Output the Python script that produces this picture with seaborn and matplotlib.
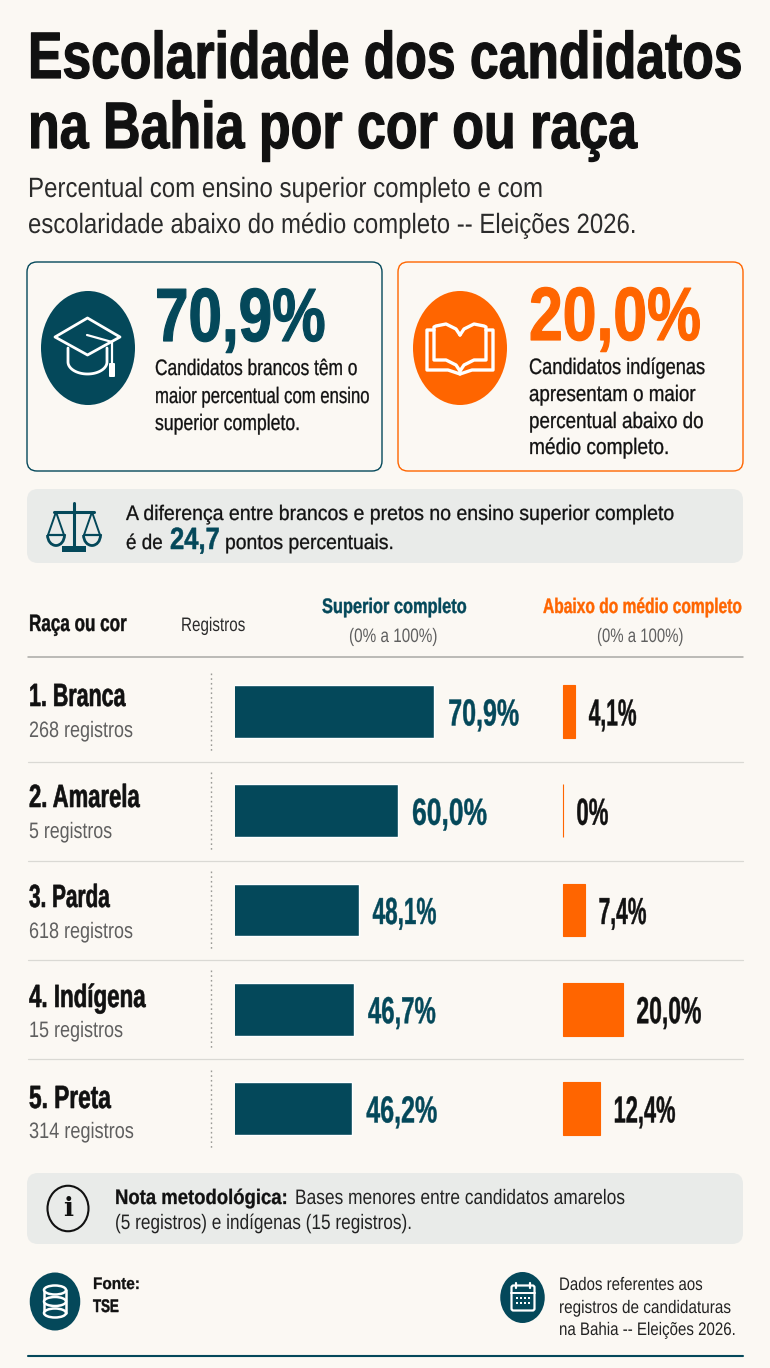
import matplotlib
matplotlib.use("Agg")
import matplotlib.pyplot as plt
from matplotlib.patches import FancyBboxPatch, Ellipse, Rectangle, Polygon, Arc
from matplotlib.patheffects import AbstractPathEffect
from matplotlib.transforms import Affine2D
import numpy as np
import pandas as pd
import seaborn as sns

# Data
racas = ["Branca", "Amarela", "Parda", "Indígena", "Preta"]
registros = [268, 5, 618, 15, 314]
superior = [70.9, 60.0, 48.1, 46.7, 46.2]
abaixo = [4.1, 0, 7.4, 20.0, 12.4]

# Colours
BG = "#FBF8F3"
TEAL = "#04485A"
ORANGE = "#FF6500"
PANEL = "#E9EBE9"
INK = "#111111"
GRAY = "#5F5F5F"

FONT = ["Liberation Sans", "DejaVu Sans"]
CAP = 0.716  # cap height of the font, in em

sns.set_theme(style="white")
plt.rcParams["font.family"] = FONT

W, H = 770, 1368
fig = plt.figure(figsize=(W / 100, H / 100), dpi=100, facecolor=BG)

# Overlay in pixel coordinates for the infographic furniture
bg = fig.add_axes([0, 0, 1, 1])
bg.set_xlim(0, W)
bg.set_ylim(H, 0)
bg.axis("off")
renderer = fig.canvas.get_renderer()


class Tall(AbstractPathEffect):
    # the reference's lettering is tall and narrow, no condensed font is installed
    def __init__(self, sy, heavy=0):
        super().__init__()
        self.sy = sy
        self.heavy = heavy

    def draw_path(self, renderer, gc, tpath, affine, rgbFace=None):
        gc0 = renderer.new_gc()
        gc0.copy_properties(gc)
        if self.heavy:
            gc0.set_linewidth(self.heavy * 0.72)
            gc0.set_foreground(rgbFace)
        renderer.draw_path(gc0, tpath, Affine2D().scale(1, self.sy) + affine, rgbFace)
        gc0.restore()


def shape(t, w, cap, heavy=0):
    # fit text to width w px and cap height cap px
    cur = t.get_window_extent(renderer).width
    t.set_fontsize(t.get_fontsize() * w / cur)
    px = t.get_fontsize() / 0.72
    t.set_path_effects([Tall(cap / (CAP * px), heavy)])
    return t


def txt(x, y, s, w, cap, color=INK, weight="normal", heavy=0):
    # x = left edge, y = baseline
    t = bg.text(x, y, s, fontsize=14, color=color, fontweight=weight,
                ha="left", va="baseline")
    return shape(t, w, cap, heavy)


def card(x0, y0, x1, y1, edge="none", face="none", lw=1.0, r=10):
    bg.add_patch(FancyBboxPatch((x0 + r, y0 + r), x1 - x0 - 2 * r, y1 - y0 - 2 * r,
                                boxstyle=f"round,pad={r},rounding_size={r}",
                                ec=edge, fc=face, lw=lw))


def stroke(xs, ys, color="white", lw=2.0, **kw):
    bg.plot(xs, ys, color=color, lw=lw, solid_capstyle="round",
            solid_joinstyle="round", **kw)


# Title
txt(28, 78, "Escolaridade dos candidatos", 716, 47, weight="bold", heavy=1.2)
txt(28, 148, "na Bahia por cor ou raça", 611, 47, weight="bold", heavy=1.2)
txt(28, 197, "Percentual com ensino superior completo e com", 518, 20, color="#2B2B2B")
txt(28, 233, "escolaridade abaixo do médio completo -- Eleições 2026.", 613, 20, color="#2B2B2B")

# KPI cards
card(27, 262, 382, 471, edge=TEAL)
card(398, 262, 743, 471, edge=ORANGE)
bg.add_patch(Ellipse((88, 348), 94, 114, fc=TEAL, ec="none"))
bg.add_patch(Ellipse((460, 348), 94, 114, fc=ORANGE, ec="none"))

# graduation cap
bg.add_patch(Polygon([(87.5, 318), (120, 337), (87.5, 355), (55, 337)], closed=True,
                     fc="none", ec="white", lw=2.0, joinstyle="round"))
t = np.linspace(0, np.pi, 40)
stroke(np.r_[68, 87.5 - 19.5 * np.cos(t), 107], np.r_[348, 362 + 12 * np.sin(t), 348])
stroke([87, 112, 112], [335, 342, 365], lw=1.6)
bg.add_patch(FancyBboxPatch((110, 364), 4, 12, boxstyle="round,pad=1", fc="white", ec="none"))

# open book
for sgn in (-1, 1):
    xs = 460 + sgn * np.array([0, 4, 14, 24, 26, 26, 14, 4, 0])
    ys = [335, 329, 324, 326, 327, 360, 360, 365, 371]
    stroke(xs, ys, lw=2.4)
    stroke(460 + sgn * np.array([26, 33, 33, 12, 0]), [330, 330, 370, 370, 374], lw=2.4)

txt(155, 341, "70,9%", 171, 54, color=TEAL, weight="bold", heavy=1.2)
txt(529, 340, "20,0%", 172, 54, color=ORANGE, weight="bold", heavy=1.2)
for y, s, w in [(375, "Candidatos brancos têm o", 204),
                (403, "maior percentual com ensino", 216),
                (430, "superior completo.", 146)]:
    txt(155, y, s, w, 16, heavy=0.3)
for y, s, w in [(374, "Candidatos indígenas", 178),
                (401, "apresentam o maior", 168),
                (428, "percentual abaixo do", 176),
                (454, "médio completo.", 141)]:
    txt(529, y, s, w, 16, heavy=0.3)

# Difference panel
card(27, 489, 743, 563, face=PANEL, r=11)
stroke([74, 74], [503, 546], color=TEAL, lw=2.2)
stroke([54, 94], [512, 512], color=TEAL, lw=2.2)
for cx in (56, 92):
    stroke([cx - 8, cx, cx + 8], [535, 512, 535], color=TEAL, lw=1.4)
    bg.add_patch(Arc((cx, 535), 17, 21, theta1=0, theta2=180, ec=TEAL, lw=2.0))
    stroke([cx - 8.5, cx + 8.5], [535, 535], color=TEAL, lw=1.6)
bg.add_patch(Rectangle((62, 546), 24, 6, fc=TEAL, ec="none"))
txt(126, 520, "A diferença entre brancos e pretos no ensino superior completo", 552, 15, heavy=0.3)
txt(126, 549, "é de", 37, 15, heavy=0.3)
txt(170, 549, "24,7", 50, 22, color=TEAL, weight="bold", heavy=0.5)
txt(225, 549, "pontos percentuais.", 170, 15, heavy=0.3)

# Table header
txt(29, 631, "Raça ou cor", 98, 17, weight="bold", heavy=0.4)
txt(181, 631, "Registros", 65, 14, color="#2B2B2B")
txt(322, 613, "Superior completo", 145, 15, color=TEAL, weight="bold", heavy=0.4)
txt(349, 642, "(0% a 100%)", 89, 14, color=GRAY)
txt(543, 613, "Abaixo do médio completo", 199, 15, color=ORANGE, weight="bold", heavy=0.4)
txt(597, 642, "(0% a 100%)", 87, 14, color=GRAY)
bg.plot([28, 743], [657, 657], color="#A9A9A6", lw=1.1)

# Rows
row_h = 99.25
row_y0 = 711.5
nome_w = [97, 111, 81, 117, 82]
reg_w = [105, 84, 105, 95, 106]
nome_y = [706, 807, 907, 1007, 1108]
reg_y = [737, 838, 938, 1037, 1138]
for i, (nome, n) in enumerate(zip(racas, registros)):
    cy = row_y0 + row_h * i
    txt(29, nome_y[i], f"{i + 1}. {nome}", nome_w[i], 23, weight="bold", heavy=0.6)
    txt(29, reg_y[i], f"{n} registros", reg_w[i], 16, color=GRAY)
    bg.plot([210.7, 210.7], [cy - 39, cy + 40], color="#9A9A96", lw=1.0, ls=(0, (1.2, 2.2)))
    if i < len(racas) - 1:
        bg.plot([28, 743], [cy + 50, cy + 50], color="#DAD9D4", lw=0.9)

# Bars
df = pd.DataFrame({"raca": racas, "superior": superior, "abaixo": abaixo})
top = row_y0 - row_h / 2
bottom = row_y0 + row_h * 4.5


def px_axes(x0, x1):
    ax = fig.add_axes([x0 / W, 1 - bottom / H, (x1 - x0) / W, (bottom - top) / H])
    ax.patch.set_alpha(0)
    return ax


def fmt(v):
    return "0%" if v == 0 else f"{v:.1f}%".replace(".", ",")


def value_labels(ax, values, widths, color):
    labels = ax.bar_label(ax.containers[0], labels=[fmt(v) for v in values], padding=10,
                          color=color, fontweight="bold", fontsize=18)
    for lab, w in zip(labels, widths):
        lab.set_va("baseline")
        lab.xyann = (lab.xyann[0], -14 * 0.72)
        shape(lab, w, 27, 0.4)


# left panel: baseline of the axis sits above zero, as the picture's bars do
ax1 = px_axes(234.5, 560)
sns.barplot(data=df, y="raca", x="superior", color=TEAL, saturation=1, width=0.534,
            ax=ax1, orient="h")
ax1.set_xlim(10.7, 10.7 + 325.5 / 3.32)
ax1.set_ylim(4.5, -0.5)
ax1.axis("off")
value_labels(ax1, superior, [71, 75, 64, 68, 71], TEAL)

ax2 = px_axes(562.5, 760)
sns.barplot(data=df, y="raca", x="abaixo", color=ORANGE, saturation=1, width=0.534,
            ax=ax2, orient="h", edgecolor=ORANGE, linewidth=0.8)
ax2.set_xlim(0, 197.5 / 3.0)
ax2.set_ylim(4.5, -0.5)
ax2.axis("off")
for p in ax2.containers[0]:
    p.set_clip_on(False)
value_labels(ax2, abaixo, [48, 32, 48, 65, 62], INK)

# Note panel
card(27, 1173, 743, 1244, face=PANEL, r=11)
bg.add_patch(Ellipse((68, 1208.5), 41, 45.5, fc="none", ec=INK, lw=1.5))
bg.text(68, 1209, "i", ha="center", va="center", fontsize=19, fontweight="bold",
        family="DejaVu Serif", color=INK)
txt(115, 1204, "Nota metodológica:", 173, 15, weight="bold", heavy=0.3)
txt(295, 1204, "Bases menores entre candidatos amarelos", 333, 15, color="#222222")
txt(115, 1229, "(5 registros) e indígenas (15 registros).", 300, 15, color="#222222")

# Footer
bg.add_patch(Ellipse((55, 1301.5), 50.5, 58, fc=TEAL, ec="none"))
stroke([44, 44], [1290, 1313], lw=1.8)
stroke([66, 66], [1290, 1313], lw=1.8)
for yc in (1313, 1301.5, 1290):
    bg.add_patch(Ellipse((55, yc), 22, 9, fc=TEAL, ec="white", lw=1.8, zorder=5))
txt(93, 1289, "Fonte:", 47, 12, weight="bold", heavy=0.3)
txt(93, 1312, "TSE", 26, 13, weight="bold", heavy=0.5)

bg.add_patch(Ellipse((522.5, 1297.5), 44.5, 51, fc=TEAL, ec="none"))
bg.add_patch(FancyBboxPatch((512, 1286), 22, 24, boxstyle="round,pad=0.5,rounding_size=2",
                            fc="none", ec="white", lw=1.6))
stroke([511, 535], [1293, 1293], lw=1.4)
for xc in (516, 530):
    stroke([xc, xc], [1283, 1288], lw=1.6)
for yc in (1298, 1303):
    for xc in (516.5, 520.5, 524.5, 528.5):
        bg.add_patch(Rectangle((xc - 1, yc - 1), 2.2, 2.4, fc="white", ec="none"))
txt(559, 1290, "Dados referentes aos", 145, 13, color="#222222")
txt(559, 1313, "registros de candidaturas", 174, 13, color="#222222")
txt(559, 1335, "na Bahia -- Eleições 2026.", 178, 13, color="#222222")
bg.plot([28, 743], [1356, 1356], color=TEAL, lw=1.5)

fig.savefig("out.png", dpi=100, facecolor=BG)
